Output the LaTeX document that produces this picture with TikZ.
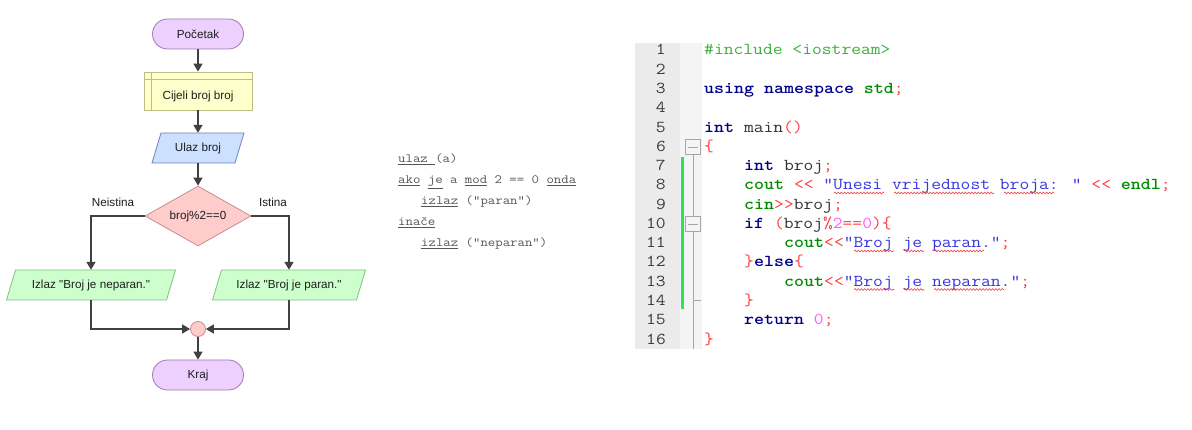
\documentclass[tikz,border=0pt]{standalone}
\usepackage{graphicx}
\usepackage{fontspec}
\setsansfont{Liberation Sans}
\usetikzlibrary{arrows.meta,shapes.geometric,decorations.pathmorphing}
\definecolor{lineC}{RGB}{64,64,64}
\definecolor{termF}{RGB}{238,208,255}
\definecolor{termD}{RGB}{160,120,180}
\definecolor{decF}{RGB}{255,204,204}
\definecolor{decD}{RGB}{200,140,140}
\definecolor{inF}{RGB}{204,224,255}
\definecolor{inD}{RGB}{110,130,190}
\definecolor{outF}{RGB}{204,255,204}
\definecolor{outD}{RGB}{130,190,130}
\definecolor{varF}{RGB}{255,255,204}
\definecolor{varD}{RGB}{190,190,130}
\definecolor{txtC}{RGB}{30,30,30}
\definecolor{pseudoC}{RGB}{85,85,85}
\definecolor{kwC}{RGB}{0,0,140}
\definecolor{stdC}{RGB}{0,140,0}
\definecolor{preC}{RGB}{60,175,60}
\definecolor{opC}{RGB}{255,60,60}
\definecolor{strC}{RGB}{55,55,225}
\definecolor{numC}{RGB}{255,90,255}
\definecolor{plainC}{RGB}{50,50,50}
\definecolor{lnC}{RGB}{60,60,60}
\definecolor{gutC}{RGB}{235,235,235}
\definecolor{foldC}{RGB}{244,244,244}
\definecolor{foldD}{RGB}{165,165,165}
\definecolor{chgC}{RGB}{40,230,80}
\definecolor{spellC}{RGB}{235,60,60}
\newcommand\cKw[1]{\textcolor{kwC}{\bfseries #1}}
\newcommand\cStd[1]{\textcolor{stdC}{\bfseries #1}}
\newcommand\cPre[1]{\textcolor{preC}{#1}}
\newcommand\cOp[1]{\textcolor{opC}{#1}}
\newcommand\cStr[1]{\textcolor{strC}{#1}}
\newcommand\cNum[1]{\textcolor{numC}{#1}}
\newcommand\uu[1]{\underline{\mbox{#1}}}
\newcommand\wide[1]{\scalebox{1.143}[1]{#1}}
\begin{document}
\begin{tikzpicture}[x=1pt,y=-1pt,
  flow/.style={font=\sffamily\fontsize{11.7}{14}\selectfont, text=txtC},
  term/.style={flow, draw=termD, fill=termF, line width=0.8pt, rounded corners=15pt,
     minimum width=91pt, minimum height=30pt, inner sep=0pt},
  conn/.style={draw=lineC, line width=1.6pt, -{Triangle[length=8pt,width=9pt]}},
  plain/.style={flow, inner sep=0pt, minimum height=30pt},
  code/.style={font=\ttfamily\fontsize{16.66}{19}\selectfont, text=plainC, anchor=base west, inner sep=0pt},
  lnum/.style={font=\ttfamily\fontsize{16.66}{19}\selectfont, text=lnC, anchor=base east, inner sep=0pt},
  pseudo/.style={font=\ttfamily\fontsize{12.6}{15}\selectfont, text=pseudoC, anchor=base west, inner sep=0pt},
  spell/.style={draw=spellC, line width=0.55pt, decorate, decoration={snake, amplitude=0.9pt, segment length=3.2pt}}
]
\useasboundingbox (0,0) rectangle (1192,430);
\fill[white] (0,0) rectangle (1192,430);

% ---------- flowchart shapes drawn directly ----------
\filldraw[fill=inF, draw=inD, line width=0.8pt] (161,133) -- (244,133) -- (235,163) -- (152,163) -- cycle;
\filldraw[fill=outF, draw=outD, line width=0.8pt] (15.5,270) -- (175.5,270) -- (166.5,300) -- (6.5,300) -- cycle;
\filldraw[fill=outF, draw=outD, line width=0.8pt] (221.5,270) -- (365.5,270) -- (356.5,300) -- (212.5,300) -- cycle;

\node[term] (start) at (198,34) {Početak};
\node[draw=varD, fill=varF, line width=0.8pt, minimum width=108pt, minimum height=38pt, inner sep=0pt] (cij) at (198,91) {};
\draw[varD, line width=0.8pt] ([yshift=-8pt]cij.north west) -- ([yshift=-8pt]cij.north east);
\draw[varD, line width=0.8pt] ([xshift=8pt]cij.north west) -- ([xshift=8pt]cij.south west);
\node[flow, inner sep=0pt] (cijT) at (198,96) {Cijeli broj broj};
\node[plain, minimum width=83pt] (ulaz) at (198,148) {Ulaz broj};
\node[flow, diamond, draw=decD, fill=decF, line width=0.8pt, minimum width=106pt, minimum height=60pt, aspect=1.77, inner sep=0pt] (dec) at (198,216) {broj\%2==0};
\node[flow, inner sep=0pt] (neis) at (113,202) {Neistina};
\node[flow, inner sep=0pt] (ist) at (273,202) {Istina};
\node[plain, minimum width=160pt] (outL) at (91,285) {Izlaz \textquotedbl Broj je neparan.\textquotedbl};
\node[plain, minimum width=144pt] (outR) at (289,285) {Izlaz \textquotedbl Broj je paran.\textquotedbl};
\node[circle, draw=decD, fill=decF, line width=0.8pt, minimum size=15pt, inner sep=0pt] (join) at (198,329) {};
\node[term] (end) at (198,375) {Kraj};

\draw[conn] (start.south) -- (cij.north);
\draw[conn] (cij.south) -- (ulaz.north);
\draw[conn] (ulaz.south) -- (dec.north);
\draw[conn] (dec.west) -| (outL.north);
\draw[conn] (dec.east) -| (outR.north);
\draw[conn] (outL.south) |- (join.west);
\draw[conn] (outR.south) |- (join.east);
\draw[conn] (join.south) -- (end.north);

% ---------- pseudocode ----------
\node[pseudo] (p1) at (398,163) {\wide{\uu{ulaz }(a)}};
\node[pseudo] (p2) at (398,184) {\wide{\uu{ako} \uu{je} a \uu{mod} 2 == 0 \uu{onda}}};
\node[pseudo] (p3) at (421,205) {\wide{\uu{izlaz} ("paran")}};
\node[pseudo] (p4) at (398,226) {\wide{\uu{inače}}};
\node[pseudo] (p5) at (421,247) {\wide{\uu{izlaz} ("neparan")}};

% ---------- code editor ----------
\fill[gutC] (635,43) rectangle (680,349);
\fill[foldC] (680,43) rectangle (702,349);
\fill[chgC] (681,157) rectangle (684,309);
\draw[foldD, line width=0.8pt] (693,154) -- (693,349);
\draw[foldD, line width=0.8pt] (693,300) -- (701,300);
\filldraw[fill=foldC, draw=foldD, line width=0.8pt] (685.5,139.5) rectangle (700.5,154.5);
\draw[foldD, line width=0.8pt] (688,147) -- (698,147);
\filldraw[fill=foldC, draw=foldD, line width=0.8pt] (685.5,216.5) rectangle (700.5,231.5);
\draw[foldD, line width=0.8pt] (688,224) -- (698,224);

\foreach \i in {1,...,16} {
  \node[lnum] (n\i) at (666,{55+(\i-1)*19.27}) {\wide{\i}};
}
\node[code] (l1) at (704,55) {\wide{\cPre{\#include <iostream>}}};
\node[code] (l3) at (704,93.54) {\wide{\cKw{using namespace} \cStd{std}\cOp{;}}};
\node[code] (l5) at (704,132.08) {\wide{\cKw{int} main\cOp{()}}};
\node[code] (l6) at (704,151.35) {\wide{\cOp{\{}}};
\node[code] (l7) at (744,170.62) {\wide{\cKw{int} broj\cOp{;}}};
\node[code] (l8) at (744,189.89) {\wide{\cStd{cout} \cOp{<<} \cStr{"Unesi vrijednost broja: "} \cOp{<<} \cStd{endl}\cOp{;}}};
\node[code] (l9) at (744,209.16) {\wide{\cStd{cin}\cOp{>>}broj\cOp{;}}};
\node[code] (l10) at (744,228.43) {\wide{\cKw{if} \cOp{(}broj\cOp{\%}\cNum{2}\cOp{==}\cNum{0}\cOp{)\{}}};
\node[code] (l11) at (784,247.70) {\wide{\cStd{cout}\cOp{<<}\cStr{"Broj je paran."}\cOp{;}}};
\node[code] (l12) at (744,266.97) {\wide{\cOp{\}}\cKw{else}\cOp{\{}}};
\node[code] (l13) at (784,286.24) {\wide{\cStd{cout}\cOp{<<}\cStr{"Broj je neparan."}\cOp{;}}};
\node[code] (l14) at (744,305.51) {\wide{\cOp{\}}}};
\node[code] (l15) at (744,324.78) {\wide{\cKw{return} \cNum{0}\cOp{;}}};
\node[code] (l16) at (704,344.05) {\wide{\cOp{\}}}};

% spell-check wavy underlines
\draw[spell] (834,193) -- (884,193);
\draw[spell] (894,193) -- (994,193);
\draw[spell] (1004,193) -- (1054,193);
\draw[spell] (854,251) -- (894,251);
\draw[spell] (904,251) -- (924,251);
\draw[spell] (934,251) -- (984,251);
\draw[spell] (854,289.5) -- (894,289.5);
\draw[spell] (904,289.5) -- (924,289.5);
\draw[spell] (934,289.5) -- (1004,289.5);
\end{tikzpicture}
\end{document}
